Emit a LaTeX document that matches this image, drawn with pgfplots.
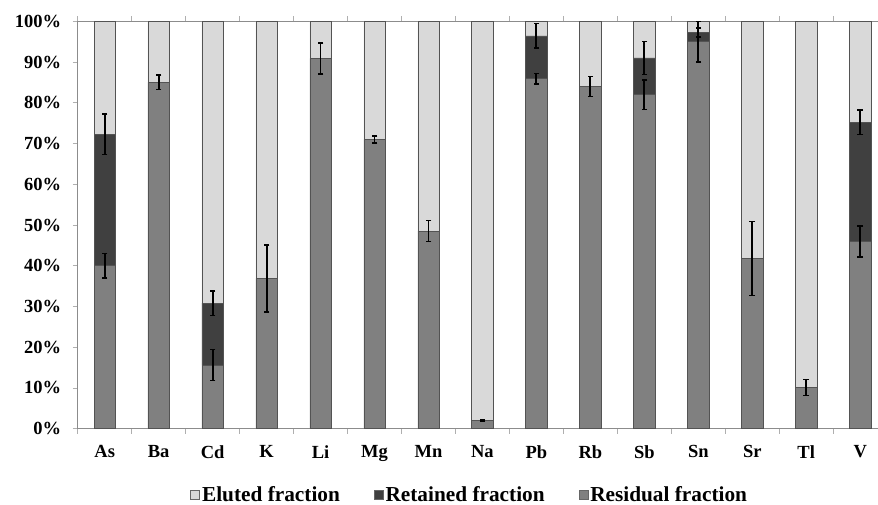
\documentclass[border=0pt]{standalone}
\usepackage{pgfplots}
\pgfplotsset{compat=1.18}
\usepackage{fontspec}
\setmainfont{Liberation Serif}
\definecolor{elu}{HTML}{D9D9D9}
\definecolor{ret}{HTML}{404040}
\definecolor{res}{HTML}{808080}
\definecolor{axg}{HTML}{8C8C8C}
\newcommand{\lbl}{\bfseries\fontsize{18.5}{22}\selectfont}
\newcommand{\lgd}{\bfseries\fontsize{21.3}{25}\selectfont}
\pgfplotsset{
  common/.style={
    scale only axis,
    width=800.3pt, height=407.4pt,
    xmin=-0.5, xmax=14.33,
    ymin=0, ymax=100,
    at={(77.7pt,76.3pt)}, anchor=south west,
  }
}
\begin{document}
\begin{tikzpicture}
\path[use as bounding box] (0,0) rectangle (878pt,505pt);
\begin{axis}[common,
  ybar stacked,
  bar width=0.395,
  axis x line*=box, axis y line*=left,
  axis line style={draw=axg, line width=0.8pt},
  xtick={0,...,14},
  xticklabels={As,Ba,Cd,K,Li,Mg,Mn,Na,Pb,Rb,Sb,Sn,Sr,Tl,V},
  xtick style={draw=none},
  minor xtick={-0.5,0.5,...,13.5},
  minor x tick style={draw=axg!70, line width=0.8pt},
  ytick={0,10,...,100},
  ytick style={draw=axg!70, line width=0.8pt},
  tick align=outside,
  major tick length=5pt, minor tick length=5pt,
  yticklabel={\pgfmathprintnumber{\tick}\%},
  /pgf/number format/assume math mode=true,
  ticklabel style={font=\lbl},
  xticklabel style={yshift=-8pt},
  yticklabel style={xshift=-8pt},
  reverse legend,
  legend columns=3,
  legend style={draw=none, fill=none, font=\lgd, at={(0.4899,-0.1627)}, anchor=center,
    /tikz/every even column/.append style={column sep=32pt}},
  legend image code/.code={\draw[#1, draw=ret!80] (0pt,-4.5pt) rectangle (9pt,4.5pt);},
  legend cell align=left,
]
\addplot[fill=res, draw=ret!90, line width=0.6pt] coordinates {
(0,40) (1,85) (2,15.6) (3,36.9) (4,90.9) (5,71) (6,48.5) (7,2.1) (8,85.9) (9,84) (10,82) (11,95) (12,41.8) (13,10.1) (14,46)};
\addplot[fill=ret, draw=ret!90, line width=0.6pt] coordinates {
(0,32.3) (1,0) (2,15.2) (3,0) (4,0) (5,0) (6,0) (7,0) (8,10.5) (9,0) (10,9) (11,2.3) (12,0) (13,0) (14,29.2)};
\addplot[fill=elu, draw=ret!90, line width=0.6pt] coordinates {
(0,27.7) (1,15) (2,69.2) (3,63.1) (4,9.1) (5,29) (6,51.5) (7,97.9) (8,3.6) (9,16) (10,9) (11,2.7) (12,58.2) (13,89.9) (14,24.8)};
\legend{Residual fraction, Retained fraction, Eluted fraction}
\end{axis}
\begin{axis}[common, hide axis, unbounded coords=jump]
% error bars: each pair of points is one bar (low, high)
\addplot[black, line width=1.9pt, mark=-, mark size=2.8pt,
  mark options={solid, line width=1.5pt}]
coordinates {
(0,37) (0,43) (0,nan)
(0,67.3) (0,77.3) (0,nan)
(1,83.2) (1,86.8) (1,nan)
(2,11.8) (2,19.4) (2,nan)
(2,27.8) (2,33.8) (2,nan)
(3,28.7) (3,45.1) (3,nan)
(4,87.1) (4,94.7) (4,nan)
(5,70.1) (5,71.9) (5,nan)
(6,45.9) (6,51.1) (6,nan)
(7,1.86) (7,2.26) (7,nan)
(8,84.6) (8,87.2) (8,nan)
(8,93.4) (8,99.4) (8,nan)
(9,81.6) (9,86.4) (9,nan)
(10,78.4) (10,85.6) (10,nan)
(10,87) (10,95) (10,nan)
(11,90) (11,100) (11,nan)
(11,96.1) (11,98.4) (11,nan)
(12,32.7) (12,50.9) (12,nan)
(13,8.1) (13,12.1) (13,nan)
(14,42.2) (14,49.8) (14,nan)
(14,72.2) (14,78.2)
};
\end{axis}
\end{tikzpicture}
\end{document}
